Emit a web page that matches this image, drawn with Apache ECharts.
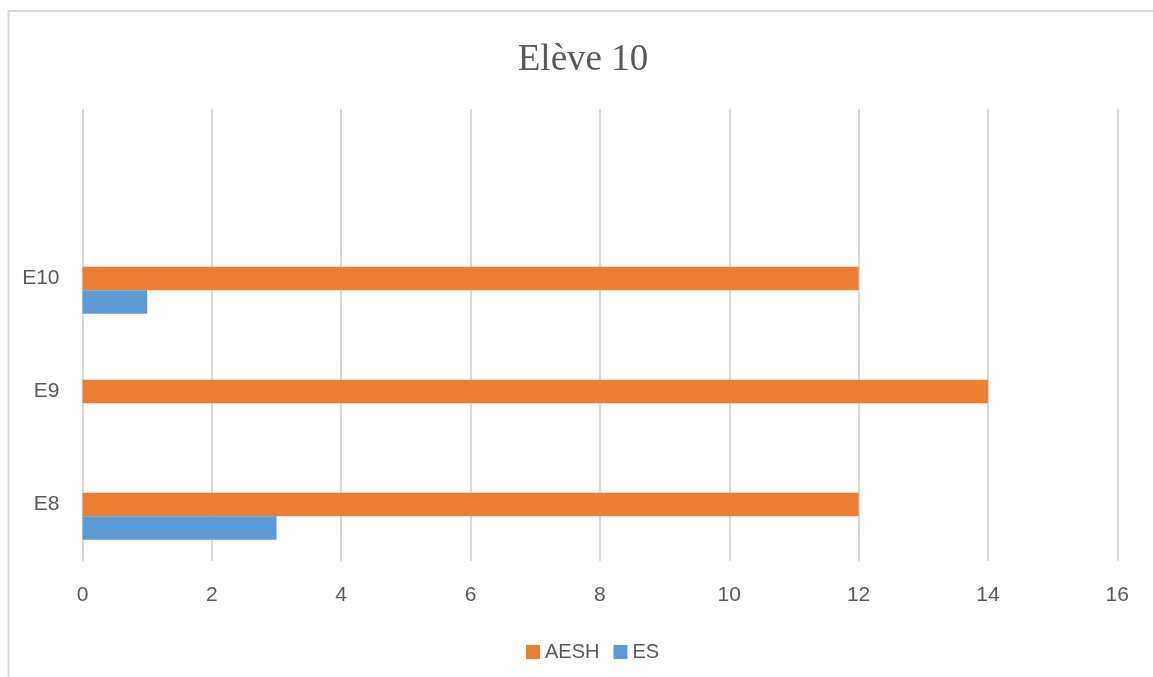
<!DOCTYPE html>
<html>
<head>
<meta charset="utf-8">
<script src="https://cdn.jsdelivr.net/npm/echarts@6/dist/echarts.min.js"></script>
<style>html,body{margin:0;padding:0;background:#fff;}#c{width:1153px;height:677px;}</style>
</head>
<body>
<div id="c"></div>
<script>
var categories = ['E8', 'E9', 'E10', ''];
var aeshValues = [12, 14, 12, null];
var esValues = [3, 0, 1, null];
var xTicks = { min: 0, max: 16, interval: 2 };
var titleText = 'Elève 10';

var chart = echarts.init(document.getElementById('c'));
var txt = '#595959';
var font = 'Liberation Sans';
chart.setOption({
  animation: false,
  backgroundColor: '#fff',
  graphic: [{
    type: 'rect', silent: true, z: -1,
    shape: { x: 8.5, y: 11, width: 1300, height: 800 },
    style: { fill: 'none', stroke: '#D9D9D9', lineWidth: 2 }
  }],
  title: {
    text: titleText, left: 578, top: 37, textAlign: 'center',
    textStyle: { fontFamily: 'Liberation Serif', fontSize: 37, fontWeight: 'normal', color: txt }
  },
  legend: {
    data: ['AESH', 'ES'], left: 521, top: 637,
    icon: 'rect', itemWidth: 14, itemHeight: 14, itemGap: 14,
    textStyle: { fontFamily: font, fontSize: 20, color: txt }
  },
  grid: { left: 82.5, right: 35.7, top: 109, bottom: 116, containLabel: false },
  xAxis: {
    type: 'value', min: xTicks.min, max: xTicks.max, interval: xTicks.interval,
    axisLine: { show: false }, axisTick: { show: false },
    axisLabel: { fontFamily: font, fontSize: 21, color: txt, margin: 24 },
    splitLine: { show: true, lineStyle: { color: '#D9D9D9', width: 2 } }
  },
  yAxis: {
    type: 'category', data: categories,
    axisLine: { show: false }, axisTick: { show: false },
    axisLabel: { fontFamily: font, fontSize: 21, color: txt, margin: 23, padding: [10, 0, 0, 0] },
    splitLine: { show: false }
  },
  series: [
    { name: 'blank', type: 'bar', data: [null, null, null, null], barGap: '0%', barCategoryGap: '37.6%' },
    { name: 'AESH', type: 'bar', data: aeshValues, itemStyle: { color: '#ED7D31' }, barGap: '0%', barCategoryGap: '37.6%' },
    { name: 'ES', type: 'bar', data: esValues, itemStyle: { color: '#5B9BD5' }, barGap: '0%', barCategoryGap: '37.6%' }
  ]
});
</script>
</body>
</html>
